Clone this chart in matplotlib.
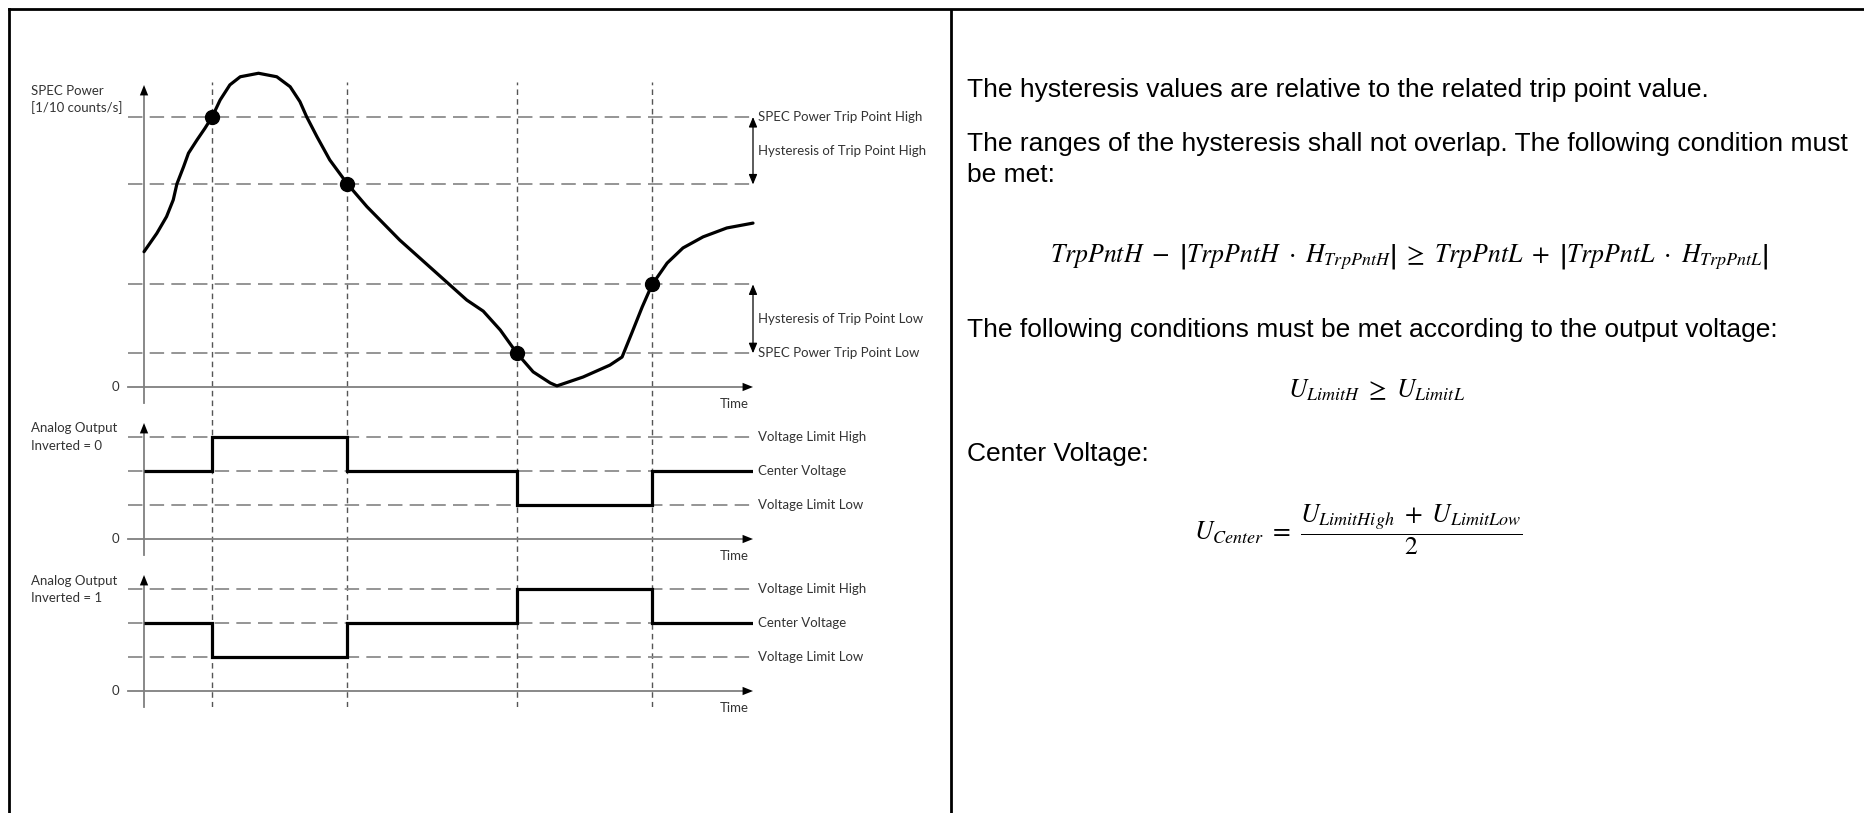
import matplotlib
matplotlib.use("Agg")
import matplotlib.pyplot as plt

plt.rcParams['mathtext.fontset'] = 'stix'

W, H = 1865, 813

# SPEC power curve (time, power)
curve_t = [0.00, 0.21, 0.37, 0.48, 0.54, 0.65, 0.73, 0.87, 1.00, 1.12, 1.25, 1.41,
           1.58, 1.88, 2.18, 2.40, 2.56, 2.67, 2.84, 3.05, 3.34, 3.66, 4.20, 4.75,
           5.30, 5.57, 5.85, 6.12, 6.39, 6.67, 6.78, 7.21, 7.65, 7.85, 8.01, 8.18,
           8.34, 8.59, 8.85, 9.18, 9.57, 10.00]
curve_p = [50.1, 56.9, 63.1, 69.3, 75.2, 81.6, 86.6, 91.5, 95.8, 100.1, 106.3, 111.9,
           114.9, 116.2, 114.9, 111.2, 105.7, 100.1, 92.7, 84.1, 75.2, 66.8, 54.4, 43.3,
           32.2, 28.1, 21.1, 12.6, 5.6, 1.5, 0.4, 3.7, 8.1, 11.1, 20.0, 29.6,
           37.8, 45.9, 51.5, 55.6, 58.9, 60.7]

trip_high = 100
hyst_high = 75
hyst_low = 38
trip_low = 12.5
power_levels = [trip_high, hyst_high, hyst_low, trip_low]

switch_t = [1.12, 3.34, 6.12, 8.34]
switch_p = [trip_high, hyst_high, trip_low, hyst_low]
edges = [0] + switch_t + [10]

v_low, v_center, v_high = 1, 2, 3
volt_levels = [v_high, v_center, v_low]
volt_labels = ['Voltage Limit High', 'Center Voltage', 'Voltage Limit Low']
out_normal = [v_center, v_high, v_center, v_low, v_center]
out_inverted = [v_center, v_low, v_center, v_high, v_center]

t_end = 10
t_left = -0.263

GRAY = '#7f7f7f'
DASH = '#8c8c8c'
TXT = '#333333'
LFONT = 'Lato'
LSIZE = 9.5

fig = plt.figure(figsize=(W / 100, H / 100), dpi=100)


def px_axes(x0, x1, y0, y1):
    return fig.add_axes([x0 / W, 1 - y1 / H, (x1 - x0) / W, (y1 - y0) / H])


# table frame
frame = px_axes(9, W + 20, 9, H + 20)
frame.set_xlim(0, 1)
frame.set_ylim(0, 1)
frame.set_xticks([])
frame.set_yticks([])
for s in ['right', 'bottom']:
    frame.spines[s].set_visible(False)
for s in ['top', 'left']:
    frame.spines[s].set_linewidth(2)
frame.axvline((951 - 9) / (W + 11), color='black', lw=2)
frame.patch.set_alpha(0)

# vertical switching lines through all three diagrams
axv = px_axes(128, 753, 82, 707)
axv.set_xlim(t_left, t_end)
axv.set_ylim(0, 1)
axv.axis('off')
axv.vlines(switch_t, 0, 1, colors='#555555', lw=1.0, linestyles=(0, (4, 3)))


def axis_frame(ax, ybot, ytop, time_lbl_off):
    ax.set_xlim(t_left, t_end)
    ax.set_ylim(ybot, ytop)
    ax.axis('off')
    # y axis with arrow head
    ax.plot([0, 0], [ybot, ytop * 0.97], color=GRAY, lw=1.3, clip_on=False)
    ax.annotate('', xy=(0, ytop), xytext=(0, ytop - 0.02 * (ytop - ybot)),
                arrowprops=dict(arrowstyle='-|>,head_length=0.75,head_width=0.3',
                                color='black', lw=0, shrinkA=0, shrinkB=0))
    # time axis
    ax.plot([t_left, t_end - 0.1], [0, 0], color=GRAY, lw=1.3, clip_on=False)
    ax.annotate('', xy=(t_end, 0), xytext=(t_end - 0.05, 0),
                arrowprops=dict(arrowstyle='-|>,head_length=0.75,head_width=0.3',
                                color='black', lw=0, shrinkA=0, shrinkB=0))
    ax.annotate('0', xy=(0, 0), xytext=(-18, 0), textcoords='offset points',
                ha='right', va='center', fontsize=LSIZE, family=LFONT, color=TXT)
    ax.annotate('Time', xy=(9.70, 0), xytext=(0, -time_lbl_off), textcoords='offset points',
                ha='center', va='center', fontsize=LSIZE, family=LFONT, color=TXT)


def side_label(ax, y, text):
    ax.annotate(text, xy=(t_end, y), xytext=(3.5, 0), textcoords='offset points',
                ha='left', va='center', fontsize=LSIZE, family=LFONT, color=TXT)


# --- SPEC power diagram
ax1 = px_axes(128, 753, 85, 403)
axis_frame(ax1, -5.93, 111.85, 12)
ax1.hlines(power_levels, t_left, t_end, colors=DASH, lw=1.3, linestyles=(0, (8, 4)))
ax1.plot(curve_t, curve_p, color='black', lw=2.3, solid_joinstyle='round',
         solid_capstyle='round', clip_on=False, zorder=3)
ax1.plot(switch_t, switch_p, 'o', color='black', ms=10, zorder=4)
for a, b in [(trip_high, hyst_high), (hyst_low, trip_low)]:
    ax1.annotate('', xy=(t_end, a), xytext=(t_end, b),
                 arrowprops=dict(arrowstyle='<|-|>,head_length=0.6,head_width=0.25',
                                 color='black', lw=0.9, shrinkA=0, shrinkB=0))
side_label(ax1, trip_high, 'SPEC Power Trip Point High')
side_label(ax1, (trip_high + hyst_high) / 2, 'Hysteresis of Trip Point High')
side_label(ax1, (hyst_low + trip_low) / 2, 'Hysteresis of Trip Point Low')
side_label(ax1, trip_low, 'SPEC Power Trip Point Low')

# --- analog output diagrams
for (y0, y1), vals in [((423, 555), out_normal), ((575, 707), out_inverted)]:
    ax = px_axes(128, 753, y0, y1)
    axis_frame(ax, -0.47, 3.41, 12)
    ax.hlines(volt_levels, t_left, t_end, colors=DASH, lw=1.3, linestyles=(0, (8, 4)))
    ax.stairs(vals, edges, baseline=None, color='black', lw=2.3, zorder=3)
    for lv, lb in zip(volt_levels, volt_labels):
        side_label(ax, lv, lb)

# left axis titles
for y, s in [(91, 'SPEC Power'), (108, '[1/10 counts/s]'),
             (428, 'Analog Output'), (446, 'Inverted = 0'),
             (581, 'Analog Output'), (598, 'Inverted = 1')]:
    fig.text(31 / W, 1 - y / H, s, ha='left', va='center', fontsize=LSIZE,
             family=LFONT, color=TXT)

# --- right column text
RF = 'Liberation Sans'
RS = 19
for y, s in [(97, 'The hysteresis values are relative to the related trip point value.'),
             (151, 'The ranges of the hysteresis shall not overlap. The following condition must'),
             (182, 'be met:'),
             (337, 'The following conditions must be met according to the output voltage:'),
             (461, 'Center Voltage:')]:
    fig.text(967 / W, 1 - y / H, s, ha='left', va='baseline', fontsize=RS, family=RF,
             color='black')

MS = 18.5
fig.text(1409 / W, 1 - 257 / H,
         r'$TrpPntH\ -\ \left|TrpPntH\ \cdot\ H_{TrpPntH}\right|\ \geq\ TrpPntL\ +\ \left|TrpPntL\ \cdot\ H_{TrpPntL}\right|$',
         ha='center', va='center', fontsize=MS)
fig.text(1377 / W, 1 - 390 / H, r'$U_{LimitH}\ \geq\ U_{LimitL}$',
         ha='center', va='center', fontsize=MS)
fig.text(1358 / W, 1 - 530 / H, r'$U_{Center}\ =\ \dfrac{U_{LimitHigh}\ +\ U_{LimitLow}}{2}$',
         ha='center', va='center', fontsize=MS)

fig.savefig('out.png', dpi=100)
